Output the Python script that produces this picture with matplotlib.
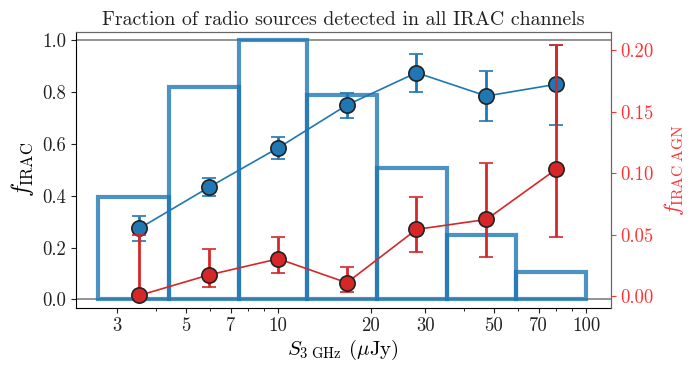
import numpy as np
import matplotlib
matplotlib.use("Agg")
import matplotlib.pyplot as plt
from matplotlib.ticker import FixedLocator, FixedFormatter, NullFormatter, LogLocator

plt.rcParams['font.family'] = ['cmr10', 'DejaVu Serif']
plt.rcParams['mathtext.fontset'] = 'cm'
plt.rcParams['axes.formatter.use_mathtext'] = True

# Histogram (normalised counts) of radio sources
bin_edges = [2.6, 4.43, 7.45, 12.4, 20.9, 35.2, 59.0, 100.0]
hist_heights = [0.394, 0.818, 1.0, 0.787, 0.506, 0.248, 0.104]

# Fraction detected in all IRAC channels
flux = [3.54, 5.94, 10.0, 16.7, 28.1, 47.4, 79.7]
f_irac = [0.274, 0.432, 0.585, 0.750, 0.875, 0.785, 0.830]
f_irac_lo = [0.226, 0.400, 0.543, 0.699, 0.802, 0.690, 0.674]
f_irac_hi = [0.323, 0.470, 0.628, 0.798, 0.946, 0.883, 0.982]

# Fraction of IRAC AGN
f_agn = [0.0005, 0.0171, 0.0303, 0.0108, 0.0542, 0.0623, 0.103]
f_agn_lo = [0.0005, 0.0071, 0.019, 0.0035, 0.0358, 0.032, 0.0482]
f_agn_hi = [0.050, 0.038, 0.0477, 0.0238, 0.0802, 0.1084, 0.2046]

xticks = [3, 5, 7, 10, 20, 30, 50, 70, 100]

fig = plt.figure(figsize=(6.92, 3.72), dpi=100)
ax = fig.add_axes([75.7/692, 1-307.7/372, (610.7-75.7)/692, (307.7-32)/372])

blue = '#1f77b4'
red = '#d62728'

edges = np.array(bin_edges)
widths = np.diff(edges)
ax.bar(edges[:-1], hist_heights, width=widths, align='edge', fill=False,
       edgecolor=blue, linewidth=3, alpha=0.8, zorder=2)

ax.axhline(0, color='gray', lw=1.2, zorder=1)
ax.axhline(1, color='gray', lw=1.2, zorder=1)

fi = np.array(f_irac)
yerr = [fi - np.array(f_irac_lo), np.array(f_irac_hi) - fi]
ax.errorbar(flux, fi, yerr=yerr, fmt='o-', color=blue, lw=1.2,
            elinewidth=2, capsize=5, capthick=2, ms=11,
            mec='#222222', mew=1.2, zorder=4)

ax.set_xscale('log')
ax.set_xlim(2.2, 120)
ax.set_ylim(-0.032, 1.032)
ax.xaxis.set_major_locator(FixedLocator(xticks))
ax.xaxis.set_major_formatter(FixedFormatter([str(t) for t in xticks]))
ax.xaxis.set_minor_locator(LogLocator(base=10, subs=np.arange(2, 10)))
ax.xaxis.set_minor_formatter(NullFormatter())
ax.set_yticks([0, 0.2, 0.4, 0.6, 0.8, 1.0])
ax.set_yticklabels(['0.0', '0.2', '0.4', '0.6', '0.8', '1.0'])
ax.tick_params(labelsize=13.5, colors='#222222')
ax.set_xlabel(r'$S_{3\ \rm GHz}$ ($\mu$Jy)', fontsize=15, labelpad=2)
ax.set_ylabel(r'$f_{\rm IRAC}$', fontsize=17, labelpad=4)
ax.set_title('Fraction of radio sources detected in all IRAC channels', fontsize=14.3, color='#222222', pad=5)
ax.spines['top'].set_color('#555555')
ax.spines['right'].set_color('#555555')

ax2 = ax.twinx()
fa = np.array(f_agn)
yerr2 = [fa - np.array(f_agn_lo), np.array(f_agn_hi) - fa]
ax2.errorbar(flux, fa, yerr=yerr2, fmt='o-', color=red, lw=1.2,
             elinewidth=2, capsize=5, capthick=2, ms=11,
             mec='#222222', mew=1.2, zorder=4)
ax2.set_ylim(-0.0095, 0.2148)
ax2.set_yticks([0, 0.05, 0.10, 0.15, 0.20])
ax2.set_yticklabels(['0.00', '0.05', '0.10', '0.15', '0.20'])
ax2.tick_params(axis='y', colors='#ff3333', labelsize=13.5)
ax2.set_ylabel(r'$f_{\mathrm{IRAC\;AGN}}$', fontsize=16, color='#ff3333', labelpad=6)
ax2.spines['right'].set_color('#666666')
ax2.spines['top'].set_color('#666666')
ax2.spines['left'].set_visible(False)
ax2.spines['bottom'].set_visible(False)

fig.savefig('out.png', dpi=100)
